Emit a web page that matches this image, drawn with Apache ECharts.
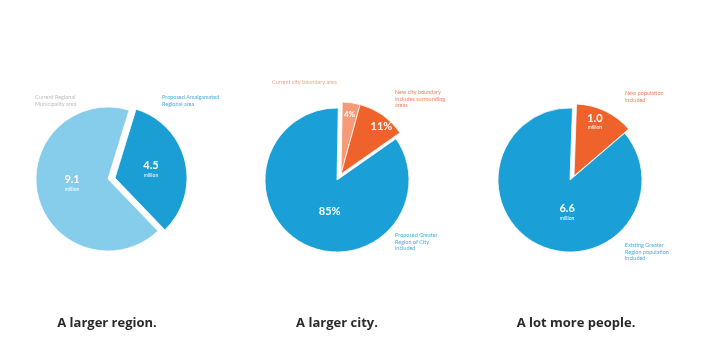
<!DOCTYPE html>
<html><head><meta charset="utf-8">
<script src="https://cdn.jsdelivr.net/npm/echarts@6/dist/echarts.min.js"></script>
<style>html,body{margin:0;padding:0;background:#fff}#c{width:702px;height:338px}</style>
</head><body><div id="c"></div>
<script>
// ---- data ----
const titles = ['A larger region.', 'A larger city.', 'A lot more people.'];
const regionCats = ['Proposed regional area', 'Current regional area'];
const regionValues = [4.5, 9.1];
const regionText = ['4.5', '9.1'];
const cityCats = ['Current city', 'Added city area', 'Greater region'];
const cityValues = [4, 11, 85];
const cityText = ['4%', '11%', '85%'];
const peopleCats = ['New population', 'Existing population'];
const peopleValues = [1.0, 6.6];
const peopleText = ['1.0', '6.6'];
const unitText = 'million';

const chart = echarts.init(document.getElementById('c'), null, {renderer: 'canvas'});
const R = 72;
const FONT = 'Lato, "Open Sans", sans-serif';

function makePie(center, cats, values, colors, exploded, offset, startAngle, labelFn) {
  const base = [], moved = [];
  cats.forEach((name, i) => {
    const isEx = exploded.includes(i);
    const lab = labelFn(i);
    const on = {name, value: values[i], itemStyle: {color: colors[i], borderColor: '#fff', borderWidth: 0.8}, label: lab};
    const off = {name, value: values[i], itemStyle: {color: 'rgba(0,0,0,0)', borderWidth: 0}, label: {show: false}};
    base.push(isEx ? off : on);
    moved.push(isEx ? on : off);
  });
  const common = {type: 'pie', radius: R, startAngle, clockwise: true, avoidLabelOverlap: false,
    silent: true, labelLine: {show: false}, emphasis: {disabled: true}};
  return [
    Object.assign({}, common, {center, data: base}),
    Object.assign({}, common, {center: [center[0] + offset[0], center[1] + offset[1]], data: moved})
  ];
}

function numLabel(txt, withUnit, off, size) {
  return {show: true, position: 'inside', offset: off || [0, 0],
    formatter: withUnit ? '{a|' + txt + '}\n{b|' + unitText + '}' : '{a|' + txt + '}',
    rich: {a: {color: '#fff', fontSize: size || 11, fontWeight: 'bold', fontFamily: FONT, lineHeight: 12},
           b: {color: '#fff', fontSize: 5, fontFamily: FONT, lineHeight: 7}}};
}

const series = [].concat(
  makePie([108, 179], regionCats, regionValues, ['#1a9ed4', '#86cdec'], [0], [7, -1], 73,
    i => numLabel(regionText[i], true, i === 0 ? [-2, 0] : [2, -5])),
  makePie([337, 180], cityCats, cityValues, ['#f59b78', '#f0622c', '#1aa0d6'], [0, 1], [4, -6], 89,
    i => i === 2 ? numLabel(cityText[i], false, [11, -3]) : (i === 1 ? numLabel(cityText[i], false, [18, -16]) : numLabel(cityText[i], false, [3, -21], 8))),
  makePie([570, 180], peopleCats, peopleValues, ['#f0622c', '#1aa0d6'], [0], [4, -4], 88,
    i => numLabel(peopleText[i], true, i === 0 ? [4, -19] : [14, -3]))
);

function note(x, y, text, color) {
  return {type: 'text', left: x, top: y, silent: true,
    style: {text, fill: color, font: '5.5px ' + FONT, lineHeight: 6.5}};
}

chart.setOption({
  animation: false,
  backgroundColor: '#fff',
  title: titles.map((t, i) => ({text: t, left: [102, 332, 571][i], top: 312, textAlign: 'center',
    textStyle: {fontSize: 13, fontWeight: 'bold', color: '#2a2a2a', fontFamily: '"Open Sans", Lato, sans-serif'}})),
  series,
  graphic: [
    note(35, 94, 'Current Regional\nMunicipality area', '#bdbdbd'),
    note(162, 94, 'Proposed Amalgamated\nRegional area', '#4aafd9'),
    note(272, 79, 'Current city boundary area', '#f5a585'),
    note(395, 89, 'New city boundary\nincludes surrounding\nareas', '#f28260'),
    note(395, 232, 'Proposed Greater\nRegion of City\nincluded', '#4aafd9'),
    note(625, 90, 'New population\nincluded', '#f28260'),
    note(625, 242, 'Existing Greater\nRegion population\nincluded', '#4aafd9')
  ]
});
</script></body></html>
